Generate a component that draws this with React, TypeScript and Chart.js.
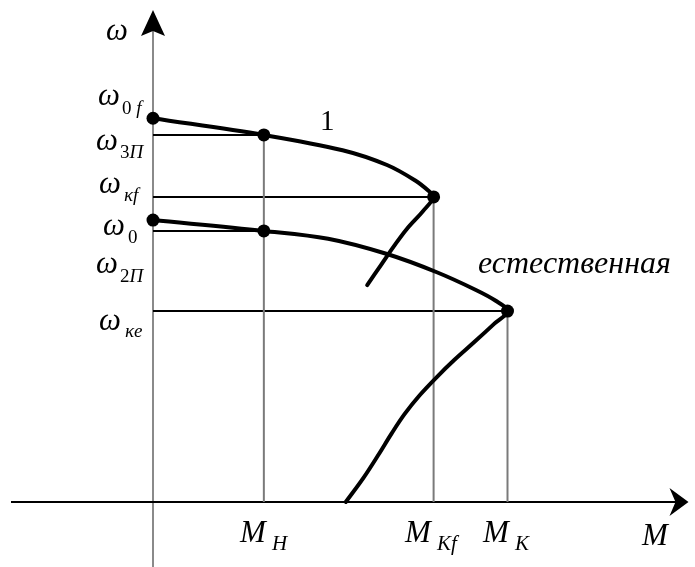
import React, { useEffect, useRef } from "react";
import { Chart, registerables } from "chart.js";

Chart.register(...registerables);

// Characteristic values (M along x, ω along y)
const M_H = 20.7;
const M_KF = 52.4;
const M_K = 66.2;

const W_0F = 78.0;
const W_3P = 74.6;
const W_KF = 62.0;
const W_0 = 57.3;
const W_2P = 55.1;
const W_KE = 38.8;

// Curve "1" (reduced frequency characteristic)
const curve1M = [0, M_H, 35.4, 43.7, 48.9, 51.5, M_KF, 50.4, 47.4, 45.0, 42.6, 40.0];
const curve1W = [W_0F, W_3P, 71.5, 68.5, 65.4, 63.2, W_KF, 59.1, 55.5, 52.0, 48.2, 44.1];

// Natural characteristic
const naturalM = [0, M_H, 32.7, 43.7, 53.0, 60.3, 64.0, M_K, 63.7, 60.0, 56.3, 53.0, 49.8, 47.0, 44.6, 42.1, 39.3, 36.0];
const naturalW = [W_0, W_2P, 53.5, 50.4, 46.7, 43.1, 40.9, W_KE, 36.2, 32.5, 28.9, 25.4, 21.7, 17.9, 14.0, 9.6, 4.9, 0];

// Marked points
const dotsM = [0, M_H, M_KF, 0, M_H, M_K];
const dotsW = [W_0F, W_3P, W_KF, W_0, W_2P, W_KE];

// Horizontal guides: ω level → moment where it ends
const hGuideW = [W_3P, W_KF, W_2P, W_KE];
const hGuideM = [M_H, M_KF, M_H, M_K];

// Vertical guides: moment → ω level where it starts
const vGuideM = [M_H, M_KF, M_K];
const vGuideW = [W_3P, W_KF, W_KE];

const W = 695;
const H = 567;
const SERIF = '"Liberation Serif", "Times New Roman", serif';

type Part = { t: string; it: boolean };

function drawParts(ctx: CanvasRenderingContext2D, parts: Part[], x: number, y: number, size: number) {
  let cx = x;
  for (const p of parts) {
    ctx.font = `${p.it ? "italic " : ""}${size}px ${SERIF}`;
    ctx.fillText(p.t, cx, y);
    cx += ctx.measureText(p.t).width;
  }
}

const decorations = {
  id: "decorations",
  beforeDatasetsDraw(chart: any) {
    const ctx: CanvasRenderingContext2D = chart.ctx;
    const xs = chart.scales.x;
    const ys = chart.scales.y;
    const x0 = xs.getPixelForValue(0);
    const y0 = ys.getPixelForValue(0);
    ctx.save();
    ctx.lineCap = "butt";

    // vertical axis (gray)
    ctx.strokeStyle = "#8a8a8a";
    ctx.lineWidth = 2;
    ctx.beginPath();
    ctx.moveTo(x0, 30);
    ctx.lineTo(x0, H);
    ctx.stroke();

    // horizontal axis
    ctx.strokeStyle = "#000";
    ctx.lineWidth = 2;
    ctx.beginPath();
    ctx.moveTo(11, y0);
    ctx.lineTo(684, y0);
    ctx.stroke();

    // horizontal guides
    ctx.strokeStyle = "#000";
    ctx.lineWidth = 2;
    hGuideW.forEach((w, i) => {
      const py = ys.getPixelForValue(w);
      ctx.beginPath();
      ctx.moveTo(x0, py);
      ctx.lineTo(xs.getPixelForValue(hGuideM[i]), py);
      ctx.stroke();
    });

    // vertical guides
    ctx.strokeStyle = "#7a7a7a";
    ctx.lineWidth = 2;
    vGuideM.forEach((m, i) => {
      const px = xs.getPixelForValue(m);
      ctx.beginPath();
      ctx.moveTo(px, ys.getPixelForValue(vGuideW[i]));
      ctx.lineTo(px, y0);
      ctx.stroke();
    });

    // arrow heads
    ctx.fillStyle = "#000";
    const top = ys.getPixelForValue(100);
    ctx.beginPath();
    ctx.moveTo(x0, top);
    ctx.lineTo(x0 + 12, top + 26);
    ctx.lineTo(x0, top + 21);
    ctx.lineTo(x0 - 12, top + 26);
    ctx.closePath();
    ctx.fill();

    const right = xs.getPixelForValue(100);
    ctx.beginPath();
    ctx.moveTo(right, y0);
    ctx.lineTo(right - 19, y0 - 14);
    ctx.lineTo(right - 13, y0);
    ctx.lineTo(right - 19, y0 + 14);
    ctx.closePath();
    ctx.fill();
    ctx.restore();
  },
  afterDraw(chart: any) {
    const ctx: CanvasRenderingContext2D = chart.ctx;
    ctx.save();
    ctx.fillStyle = "#000";
    ctx.textBaseline = "alphabetic";
    ctx.textAlign = "left";

    const wSize = 31;
    const sSize = 19;
    // ω labels on the vertical axis
    drawParts(ctx, [{ t: "ω", it: true }], 106, 40, wSize);
    const wLabels: { sub: Part[]; x: number; y: number; sx: number; sy: number }[] = [
      { sub: [{ t: "0 ", it: false }, { t: "f", it: true }], x: 98, y: 105, sx: 122, sy: 114 },
      { sub: [{ t: "3", it: false }, { t: "П", it: true }], x: 96, y: 150, sx: 120, sy: 158 },
      { sub: [{ t: "κf", it: true }], x: 99, y: 193, sx: 124, sy: 201 },
      { sub: [{ t: "0", it: false }], x: 103, y: 235, sx: 128, sy: 243 },
      { sub: [{ t: "2", it: false }, { t: "П", it: true }], x: 96, y: 273, sx: 120, sy: 282 },
      { sub: [{ t: "κe", it: true }], x: 99, y: 330, sx: 125, sy: 337 },
    ];
    for (const l of wLabels) {
      drawParts(ctx, [{ t: "ω", it: true }], l.x, l.y, wSize);
      drawParts(ctx, l.sub, l.sx, l.sy, sSize);
    }

    // moment labels under the horizontal axis
    const mSize = 31;
    const mSub = 21;
    const mLabels: { sub: string; x: number; sx: number }[] = [
      { sub: "H", x: 240, sx: 272 },
      { sub: "Kf", x: 405, sx: 437 },
      { sub: "K", x: 483, sx: 515 },
    ];
    for (const l of mLabels) {
      drawParts(ctx, [{ t: "M", it: true }], l.x, 542, mSize);
      drawParts(ctx, [{ t: l.sub, it: true }], l.sx, 550, mSub);
    }
    drawParts(ctx, [{ t: "M", it: true }], 642, 545, mSize);

    // curve captions
    drawParts(ctx, [{ t: "1", it: false }], 320, 130, 29);
    drawParts(ctx, [{ t: "естественная", it: true }], 478, 273, 32);
    ctx.restore();
  },
};

export default function App() {
  const ref = useRef<HTMLCanvasElement>(null);

  useEffect(() => {
    if (!ref.current) return;
    const line = (m: number[], w: number[]) => m.map((v, i) => ({ x: v, y: w[i] }));
    const curveStyle = {
      showLine: true,
      borderColor: "#000",
      borderWidth: 4,
      pointRadius: 0,
      tension: 0.35,
      borderCapStyle: "round",
      borderJoinStyle: "round",
      clip: false,
    };
    const chart = new Chart(ref.current, {
      type: "scatter",
      data: {
        datasets: [
          { label: "1", data: line(curve1M, curve1W), ...curveStyle } as any,
          { label: "естественная", data: line(naturalM, naturalW), ...curveStyle } as any,
          {
            label: "points",
            data: line(dotsM, dotsW),
            showLine: false,
            pointRadius: 6.5,
            pointBackgroundColor: "#000",
            pointBorderColor: "#000",
            pointBorderWidth: 0,
            clip: false,
          } as any,
        ],
      },
      options: {
        responsive: false,
        animation: false,
        layout: { padding: { left: 153, right: 0, top: 10, bottom: 65 } },
        scales: {
          x: { type: "linear", min: 0, max: 100, display: false },
          y: { type: "linear", min: 0, max: 100, display: false },
        },
        plugins: { legend: { display: false }, tooltip: { enabled: false } },
        events: [],
      },
      plugins: [decorations],
    });
    return () => chart.destroy();
  }, []);

  return (
    <div style={{ position: "fixed", left: 0, top: 0, width: W, height: H, background: "#fff" }}>
      <canvas ref={ref} width={W} height={H} style={{ width: W, height: H, display: "block" }} />
    </div>
  );
}
